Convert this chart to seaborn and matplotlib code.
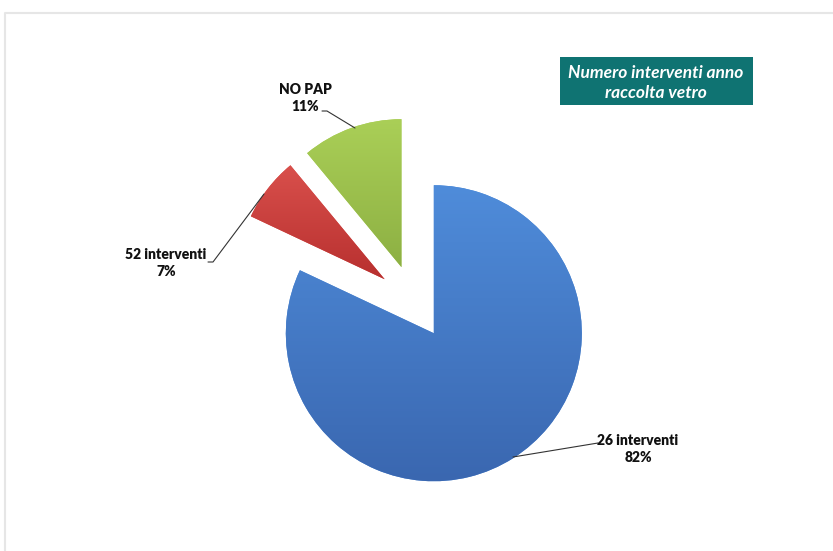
import numpy as np
import matplotlib
matplotlib.use("Agg")
import matplotlib.pyplot as plt
import seaborn as sns
from matplotlib.colors import LinearSegmentedColormap
from matplotlib.patches import Rectangle
from matplotlib.lines import Line2D

# Data
categories = ["26 interventi", "52 interventi", "NO PAP"]
shares = [82, 7, 11]
title_lines = ["Numero interventi anno", "raccolta vetro"]

# Slice colours (light top -> dark bottom)
top_colors = ["#4F8CDA", "#D9504C", "#AACF57"]
bottom_colors = ["#3A67B0", "#B8302F", "#8DB043"]

sns.set_theme(style="white")
plt.rcParams["font.family"] = ["Lato", "DejaVu Sans"]

W, H = 833, 551
fig = plt.figure(figsize=(W / 100, H / 100), dpi=100)
fig.patch.set_facecolor("white")
ax = fig.add_axes([0, 0, 1, 1])


def py(y):
    """Convert a top-down pixel row into data y."""
    return H - y


center = (414, py(302))
radius = 148
wedges, _ = ax.pie(
    shares,
    explode=[37, 37, 37],
    colors=top_colors,
    startangle=90,
    counterclock=False,
    radius=radius,
    center=center,
    wedgeprops=dict(linewidth=0),
)

# Vertical shading inside each slice
for w, c0, c1 in zip(wedges, top_colors, bottom_colors):
    verts = w.get_path().vertices
    x0, y0 = verts.min(axis=0)
    x1, y1 = verts.max(axis=0)
    cmap = LinearSegmentedColormap.from_list("s", [c1, c0])
    grad = np.linspace(0, 1, 256).reshape(-1, 1)
    im = ax.imshow(grad, extent=[x0, x1, y0, y1], origin="lower", cmap=cmap,
                   aspect="auto", interpolation="bicubic", zorder=w.get_zorder() + 0.1)
    im.set_clip_path(w)

ax.set_xlim(0, W)
ax.set_ylim(0, H)
ax.set_aspect("equal")
ax.axis("off")

# Slice labels with leader lines
label_font = dict(fontsize=10, fontweight="heavy", color="#111111", ha="center",
                  va="center", linespacing=1.4)
lbl_pos = [(638, 449), (166, 263), (305, 98)]
leaders = [
    [(598, 443), (513, 457)],
    [(208, 262), (213, 262), (264, 194)],
    [(322, 111), (327, 111), (355, 128)],
]
for cat, val, (lx, ly), pts in zip(categories, shares, lbl_pos, leaders):
    ax.text(lx, py(ly), f"{cat}\n{val}%", zorder=5, **label_font)
    xs = [p[0] for p in pts]
    ys = [py(p[1]) for p in pts]
    ax.plot(xs, ys, color="#333333", lw=0.8, zorder=4)

# Title box
ax.add_patch(Rectangle((560, py(105)), 193, 48, facecolor="#0F7372",
                       edgecolor="none", zorder=5))
ax.text(656, py(73), title_lines[0], color="white", fontsize=12.5,
        fontweight="bold", fontstyle="italic", ha="center", va="center", zorder=6)
ax.text(656, py(93), title_lines[1], color="white", fontsize=12.5,
        fontweight="bold", fontstyle="italic", ha="center", va="center", zorder=6)

# Chart area border
ax.add_line(Line2D([5.5, 5.5, W], [0, py(12.5), py(12.5)], color="#E6E6E6",
                   lw=1.5, zorder=1))

fig.savefig("out.png", dpi=100, facecolor="white")
